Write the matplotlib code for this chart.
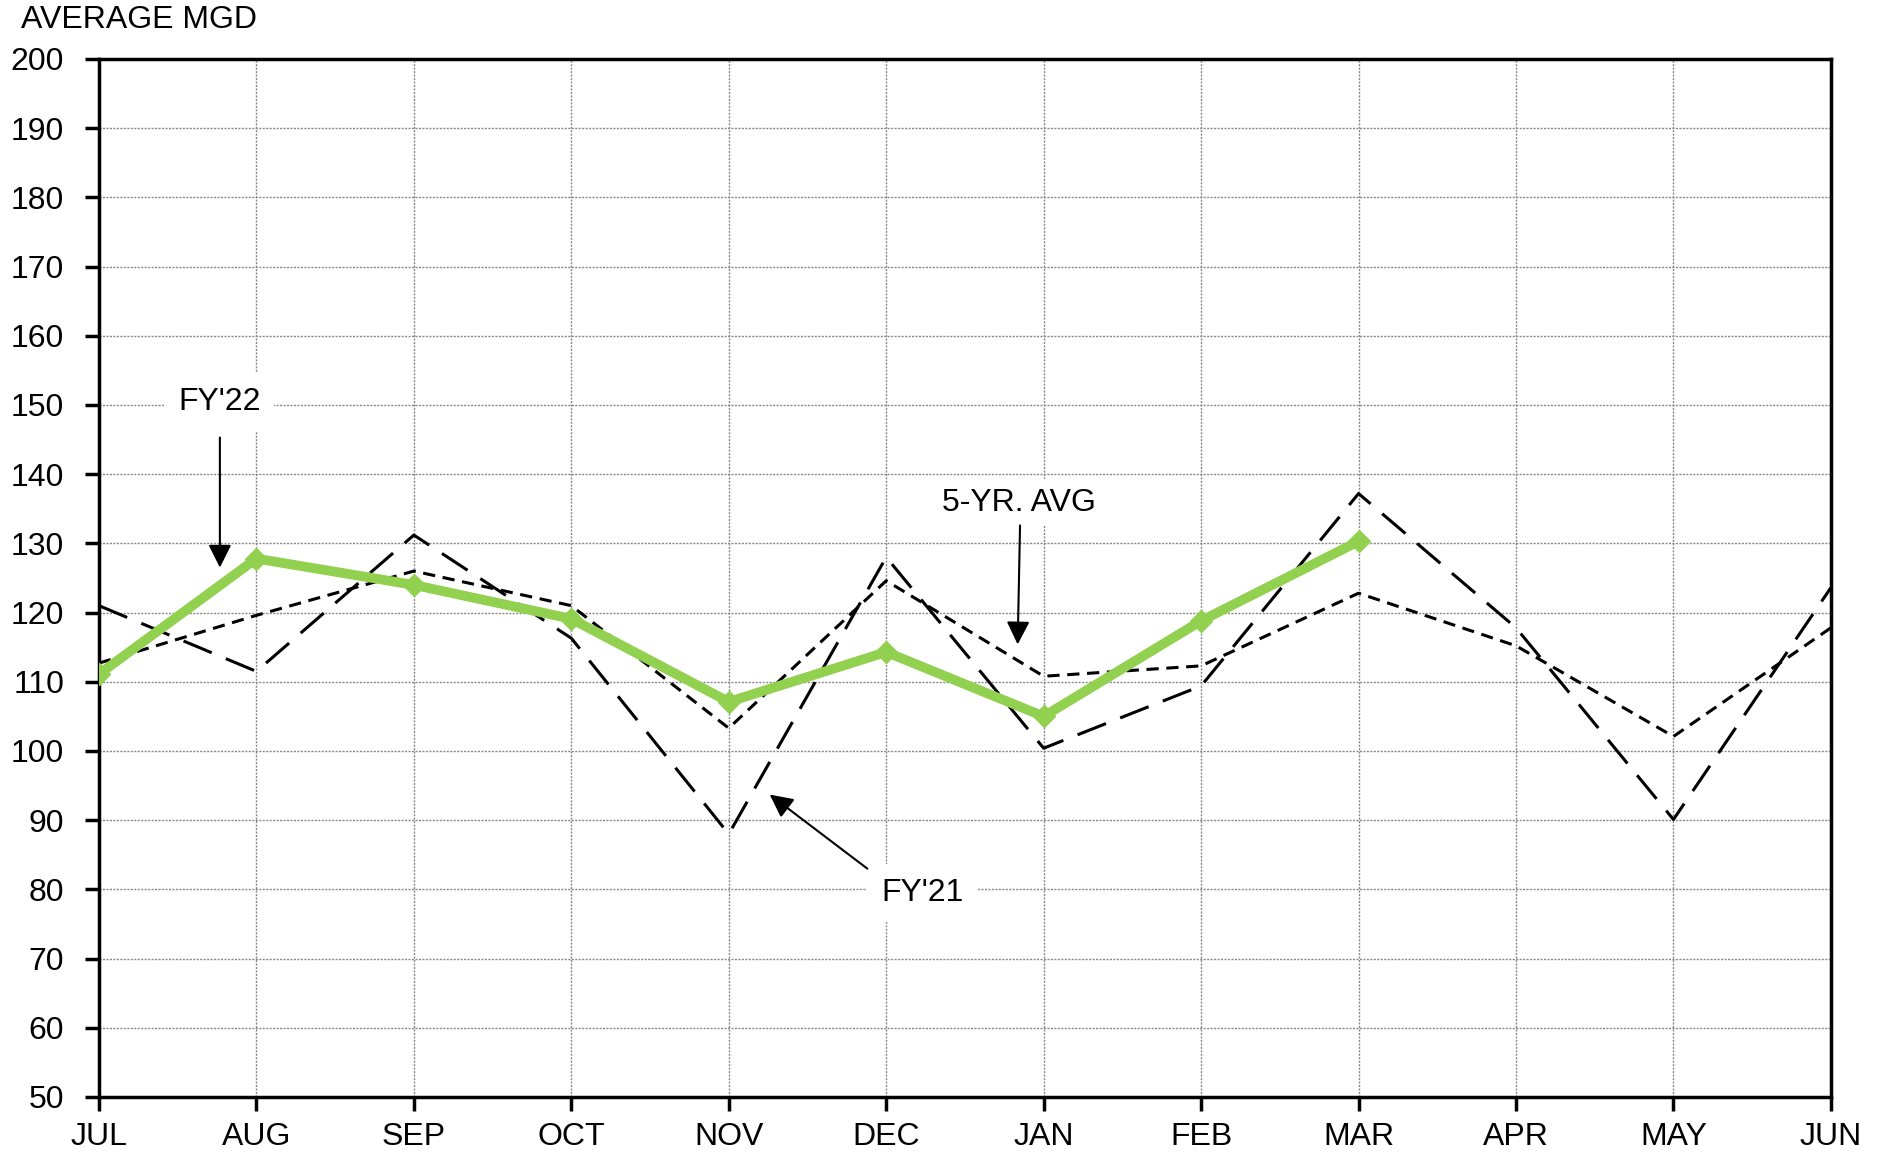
import numpy as np
import matplotlib.pyplot as plt

plt.rcParams['font.family'] = ['Liberation Sans', 'DejaVu Sans']

months = ['JUL', 'AUG', 'SEP', 'OCT', 'NOV', 'DEC', 'JAN', 'FEB', 'MAR', 'APR', 'MAY', 'JUN']
fy22 = [111.1, 127.8, 124.0, 119.1, 107.1, 114.3, 105.0, 118.8, 130.3]
fy21 = [121.0, 111.5, 131.2, 116.3, 88.0, 128.0, 100.4, 109.4, 137.2, 117.8, 90.1, 123.6]
avg5 = [112.7, 119.6, 126.0, 121.0, 103.3, 124.6, 110.8, 112.3, 122.8, 115.2, 102.1, 117.8]

fig = plt.figure(figsize=(18.85, 11.54), dpi=100)
ax = fig.add_axes([0.0525, 0.0494, 0.9188, 0.8995])

x = np.arange(len(months))
ax.plot(x, fy21, color='black', lw=2.2, dashes=(10, 5), zorder=3)
ax.plot(x, avg5, color='black', lw=2.2, dashes=(4, 2.5), zorder=3)
ax.plot(x[:len(fy22)], fy22, color='#92D050', lw=7, marker='D', ms=11,
        mec='#92D050', mfc='#92D050', zorder=4)

ax.set_xlim(0, 11)
ax.set_ylim(50, 200)
ax.set_xticks(x)
ax.set_xticklabels(months)
ax.set_yticks(np.arange(50, 201, 10))
ax.tick_params(labelsize=23, width=2.5, length=10, direction='out')
ax.tick_params(axis='x', pad=8)
ax.tick_params(axis='y', pad=15)
for s in ax.spines.values():
    s.set_linewidth(2.5)
ax.grid(True, color='#888888', linestyle=(0, (1.5, 1)), linewidth=1.0)
ax.set_axisbelow(True)

fig.text(0.011, 0.9757, 'AVERAGE MGD', fontsize=23, va='baseline', ha='left')

arrow = dict(arrowstyle='-|>', color='black', lw=1.5, mutation_scale=35, shrinkA=0, shrinkB=0)
ax.text(0.765, 150.4, "FY'22", fontsize=23, ha='center', va='center', zorder=5,
        bbox=dict(facecolor='white', edgecolor='none', pad=10))
ax.annotate('', xy=(0.768, 126.5), xytext=(0.768, 145.3), arrowprops=arrow, zorder=5)

ax.text(5.84, 135.9, '5-YR. AVG', fontsize=23, ha='center', va='center', zorder=5,
        bbox=dict(facecolor='white', edgecolor='none', pad=6))
ax.annotate('', xy=(5.835, 115.4), xytext=(5.85, 132.6), arrowprops=arrow, zorder=5)

ax.text(5.23, 79.5, "FY'21", fontsize=23, ha='center', va='center', zorder=5,
        bbox=dict(facecolor='white', edgecolor='none', pad=10))
ax.annotate('', xy=(4.26, 93.7), xytext=(4.88, 83.0), arrowprops=arrow, zorder=5)

fig.savefig('out.png', dpi=100)
